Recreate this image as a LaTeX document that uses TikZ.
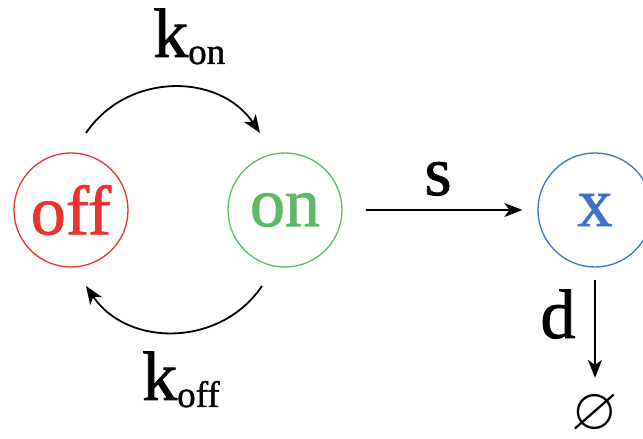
\documentclass[tikz,border=0pt]{standalone}
\usepackage{amssymb}
\usepackage{fontspec}
\setmainfont{Liberation Serif}
\newfontfamily\tim[FakeBold=1.2]{Liberation Serif}
\usetikzlibrary{arrows.meta}
\definecolor{offred}{RGB}{232,52,45}
\definecolor{ongreen}{RGB}{95,185,105}
\definecolor{xblue}{RGB}{62,115,196}
\tikzset{
  state/.style={circle, draw, line width=1.3pt, minimum size=114pt, inner sep=0pt, font=\tim\fontsize{70}{72}\selectfont},
  conn/.style={line width=1.8pt, -{Stealth[length=18pt,width=14pt,inset=5pt]}},
  lbl/.style={inner sep=0pt, font=\tim\fontsize{70}{72}\selectfont}
}
\newcommand{\subtxt}[1]{\raisebox{-7pt}{\fontsize{37}{38}\selectfont #1}}
\begin{document}
\begin{tikzpicture}[x=1pt,y=1pt]
\clip (0,0) rectangle (643,439);
\node[state, draw=offred, text=offred] (off) at (71,229) {off};
\node[state, draw=ongreen, text=ongreen] (on) at (285,229) {on};
\node[state, draw=xblue, text=xblue] (x) at (595,229) {x};
\node[inner sep=0pt, font=\fontsize{60}{60}\selectfont] (empty) at (595,24) {$\varnothing$};
\node[lbl, anchor=base west] (kon) at (153,382) {k\subtxt{on}};
\node[lbl, anchor=base west] (koff) at (142,39) {k\subtxt{off}};
\node[lbl, anchor=base] (s) at (438,244) {s};
\node[lbl, anchor=base] (d) at (558,101) {d};
\coordinate (t1) at (86,306);
\coordinate (t2) at (260,306);
\coordinate (b1) at (262,153);
\coordinate (b2) at (86,153);
\draw[conn] (t1) to[bend left=56, looseness=1.08] (t2);
\draw[conn] (b1) to[bend left=56, looseness=1.08] (b2);
\draw[conn, shorten <=23pt, shorten >=15pt] (on.east) -- (x.west);
\draw[conn, shorten <=12pt, shorten >=17pt] (x.south) -- (empty.north);
\end{tikzpicture}
\end{document}
